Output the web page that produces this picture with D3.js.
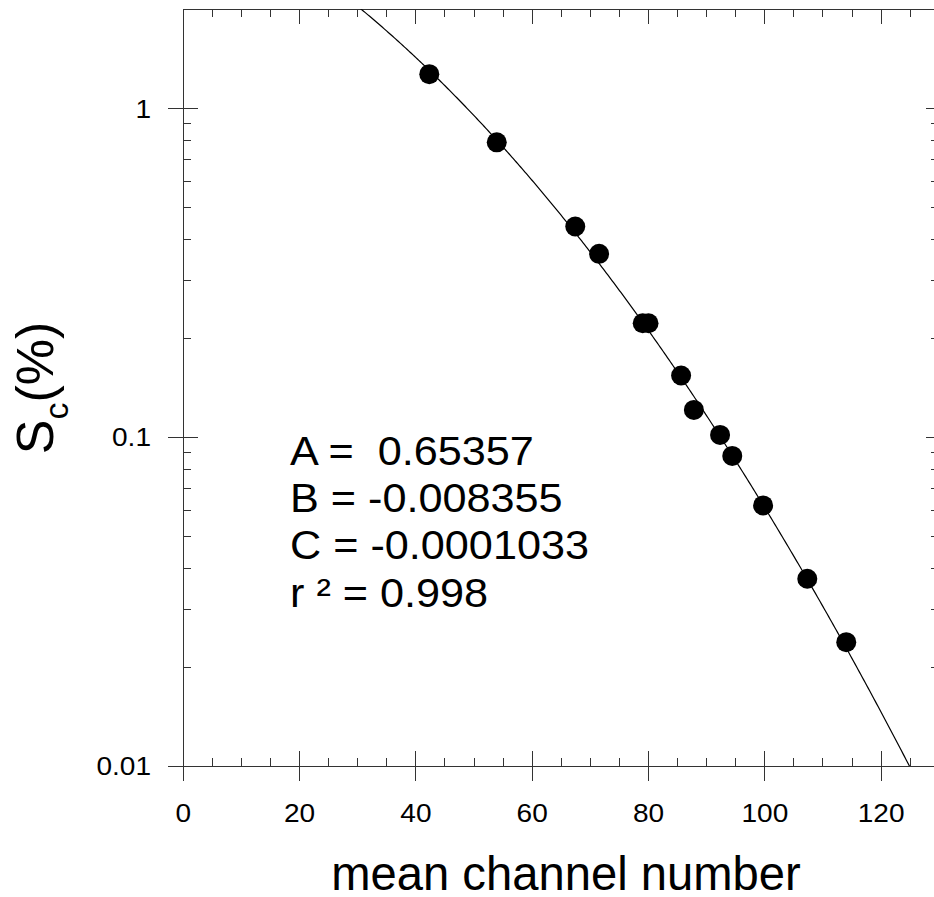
<!DOCTYPE html>
<html>
<head>
<meta charset="utf-8">
<script src="https://cdn.jsdelivr.net/npm/d3@7"></script>
<style>
  html, body { margin: 0; padding: 0; background: #fff; }
  svg { display: block; }
  text { font-family: "Liberation Sans", Arial, Helvetica, sans-serif; fill: #000; }
</style>
</head>
<body>
<svg id="chart" width="934" height="897"></svg>
<script>
// Measured values: mean channel number vs. S_c (%)
const channel = [42.3, 53.9, 67.4, 71.5, 79.0, 80.0, 85.6, 87.8, 92.3, 94.4, 99.7, 107.3, 114.0];
const scPercent = [1.27, 0.788, 0.437, 0.361, 0.222, 0.222, 0.154, 0.121, 0.1016, 0.0877, 0.062, 0.0371, 0.0238];

// Quadratic fit of log10(S_c) = A + B*x + C*x^2
const fitA = 0.65357;
const fitB = -0.008355;
const fitC = -0.0001033;
const fitR2 = 0.998;
const fitLabels = ["A =  0.65357", "B = -0.008355", "C = -0.0001033", "r \u00B2 = 0.998"];

const xMajorTicks = [0, 20, 40, 60, 80, 100, 120];
const yMajorTicks = [0.01, 0.1, 1];
const yTickLabels = ["0.01", "0.1", "1"];

const svg = d3.select("#chart");

const plotL = 183.3, plotR = 939.3, plotT = 9.3, plotB = 766;
const x = d3.scaleLinear().domain([0, 130]).range([plotL, plotR]);
const y = d3.scaleLog().domain([0.01, 2]).range([plotB, plotT]);

const axisColor = "#333";

// minor ticks
const xMinor = d3.range(0, 131, 5).filter(v => v % 20 !== 0);
const yMinor = [];
[0.01, 0.1].forEach(d => { for (let k = 2; k <= 9; k++) yMinor.push(d * k); });

const g = svg.append("g").attr("stroke", axisColor).attr("stroke-width", 1).attr("shape-rendering", "crispEdges");

// frame
g.append("line").attr("x1", plotL).attr("x2", plotR).attr("y1", plotB).attr("y2", plotB);
g.append("line").attr("x1", plotL).attr("x2", plotR).attr("y1", plotT).attr("y2", plotT);
g.append("line").attr("x1", plotL).attr("x2", plotL).attr("y1", plotT).attr("y2", plotB);
g.append("line").attr("x1", plotR).attr("x2", plotR).attr("y1", plotT).attr("y2", plotB);

// bottom axis: major ticks cross the axis, minor point inward
g.selectAll(".xb").data(xMajorTicks).join("line")
  .attr("x1", d => x(d)).attr("x2", d => x(d)).attr("y1", plotB - 15).attr("y2", plotB + 15);
g.selectAll(".xbm").data(xMinor).join("line")
  .attr("x1", d => x(d)).attr("x2", d => x(d)).attr("y1", plotB - 8).attr("y2", plotB);
// top axis: inward ticks
g.selectAll(".xt").data(xMajorTicks).join("line")
  .attr("x1", d => x(d)).attr("x2", d => x(d)).attr("y1", plotT).attr("y2", plotT + 15);
g.selectAll(".xtm").data(xMinor).join("line")
  .attr("x1", d => x(d)).attr("x2", d => x(d)).attr("y1", plotT).attr("y2", plotT + 8);
// left axis
g.selectAll(".yl").data(yMajorTicks).join("line")
  .attr("x1", plotL - 15).attr("x2", plotL + 15).attr("y1", d => y(d)).attr("y2", d => y(d));
g.selectAll(".ylm").data(yMinor).join("line")
  .attr("x1", plotL).attr("x2", plotL + 8).attr("y1", d => y(d)).attr("y2", d => y(d));
// right axis
g.selectAll(".yr").data(yMajorTicks).join("line")
  .attr("x1", plotR - 13).attr("x2", plotR).attr("y1", d => y(d)).attr("y2", d => y(d));
g.selectAll(".yrm").data(yMinor).join("line")
  .attr("x1", plotR - 8).attr("x2", plotR).attr("y1", d => y(d)).attr("y2", d => y(d));

// tick labels (slightly widened face)
svg.selectAll(".xlab").data(xMajorTicks).join("text")
  .attr("transform", d => `translate(${x(d)},822) scale(1.1,1)`)
  .attr("text-anchor", "middle").attr("font-size", 25.5)
  .text(d => d);
svg.selectAll(".ylab").data(yMajorTicks).join("text")
  .attr("transform", d => `translate(151,${y(d) + 9.3}) scale(1.1,1)`)
  .attr("text-anchor", "end").attr("font-size", 25.5)
  .text((d, i) => yTickLabels[i]);

// axis titles
svg.append("text").attr("x", 566).attr("y", 890).attr("text-anchor", "middle")
  .attr("font-size", 47.2).text("mean channel number");

const yt = svg.append("text").attr("transform", "translate(53,388) rotate(-90)")
  .attr("text-anchor", "middle").attr("font-size", 52);
yt.append("tspan").text("S");
yt.append("tspan").attr("font-size", 34).attr("dy", 15).text("c");
yt.append("tspan").attr("dy", -15).text("(%)");

// fitted curve
svg.append("clipPath").attr("id", "plotClip").append("rect")
  .attr("x", plotL).attr("y", plotT).attr("width", plotR - plotL).attr("height", plotB - plotT);
const fitFn = v => Math.pow(10, fitA + fitB * v + fitC * v * v);
const xs = d3.range(0, 130.001, 0.25);
svg.append("path")
  .datum(xs)
  .attr("clip-path", "url(#plotClip)")
  .attr("fill", "none").attr("stroke", "#000").attr("stroke-width", 1.2)
  .attr("d", d3.line().x(d => x(d)).y(d => y(fitFn(d))));

// data points
svg.selectAll(".pt").data(channel).join("circle")
  .attr("cx", d => x(d)).attr("cy", (d, i) => y(scPercent[i]))
  .attr("r", 10).attr("fill", "#000");

// fit parameters
svg.selectAll(".fit").data(fitLabels).join("text")
  .attr("transform", (d, i) => `translate(290,${465 + i * 47.2}) scale(1.08,1)`)
  .attr("font-size", 40).attr("xml:space", "preserve").style("white-space", "pre")
  .text(d => d);
</script>
</body>
</html>
